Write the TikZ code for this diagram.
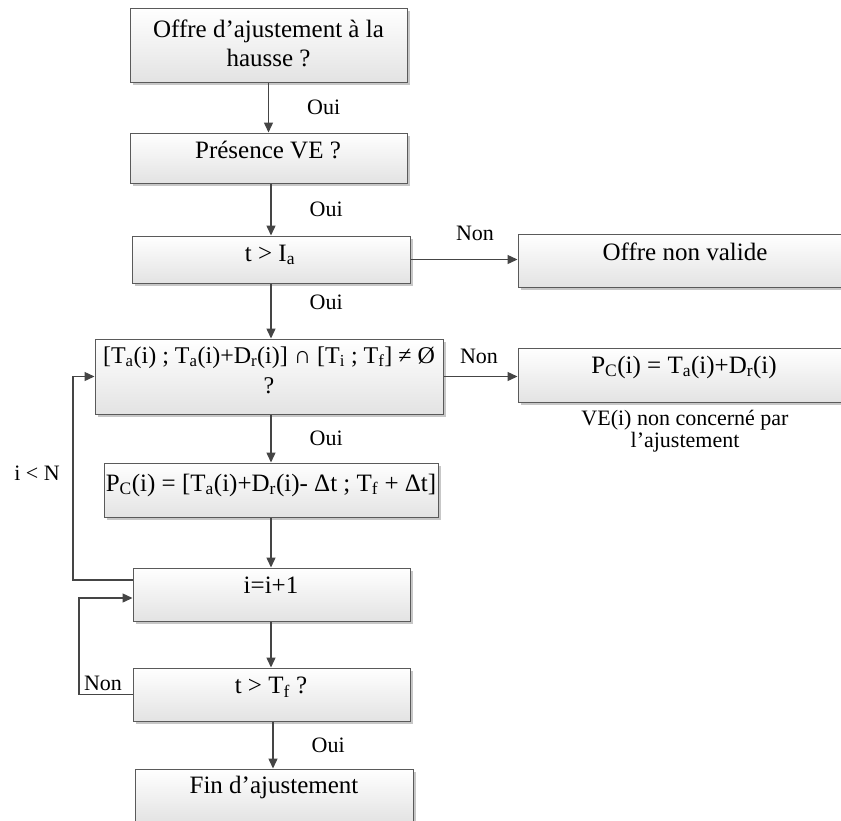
\documentclass[tikz,border=0pt]{standalone}
\usepackage{fontspec}
\setmainfont{Liberation Serif}
\usetikzlibrary{arrows.meta,shadows}
\definecolor{bord}{HTML}{5A5A5A}
\definecolor{arr}{HTML}{454545}
\tikzset{
  x=1pt, y=-1pt,
  boxs/.style={draw=bord, line width=1pt, top color=white, bottom color=black!11,
    inner sep=0pt, anchor=center,
    drop shadow={shadow xshift=3pt, shadow yshift=-3pt, fill=black!22, opacity=1}},
  txt/.style={inner sep=0pt, align=center, font=\fontsize{25}{29}\selectfont},
  lbl/.style={inner sep=0pt, align=center, font=\fontsize{22}{22}\selectfont},
  flow/.style={draw=arr, line width=1.4pt, -{Triangle[length=10pt,width=9pt]}},
  oui/.style={lbl, anchor=west, xshift=38pt},
}
\begin{document}
\begin{tikzpicture}
\useasboundingbox (0,0) rectangle (841,820);
\clip (0,0) rectangle (841,820);
% boxes
\node[boxs, minimum width=277pt, minimum height=74pt] (b1) at (268.5,45) {};
\node[boxs, minimum width=277pt, minimum height=50pt] (b2) at (268.5,158) {};
\node[boxs, minimum width=278pt, minimum height=47pt] (b3) at (271,259.5) {};
\node[boxs, minimum width=332pt, minimum height=53pt] (b4) at (684,260.5) {};
\node[boxs, minimum width=348pt, minimum height=75pt] (b5) at (269,376.5) {};
\node[boxs, minimum width=332pt, minimum height=54pt] (b6) at (684,375) {};
\node[boxs, minimum width=334pt, minimum height=54pt] (b7) at (271,490) {};
\node[boxs, minimum width=277pt, minimum height=53pt] (b8) at (271.5,594.5) {};
\node[boxs, minimum width=277pt, minimum height=53pt] (b9) at (271.5,694.5) {};
\node[boxs, minimum width=278pt, minimum height=53pt] (b10) at (274,795.5) {};
% texts
\node[txt] (t1) at (268.5,43) {Offre d’ajustement à la\\hausse ?};
\node[txt] (t2) at (268,150) {Présence VE ?};
\node[txt] (t3) at (270,255) {t > I\textsubscript{a}};
\node[txt] (t4) at (685,252) {Offre non valide};
\node[txt, font=\fontsize{24}{30}\selectfont] (t5) at (269,370) {[T\textsubscript{a}(i) ; T\textsubscript{a}(i)+D\textsubscript{r}(i)] ∩ [T\textsubscript{i} ; T\textsubscript{f}] ≠ Ø\\?};
\node[txt] (t6) at (684,367) {P\textsubscript{C}(i) = T\textsubscript{a}(i)+D\textsubscript{r}(i)};
\node[lbl] (cap) at (685,431) {VE(i) non concerné par\\l’ajustement};
\node[txt] (t7) at (271,485) {P\textsubscript{C}(i) = [T\textsubscript{a}(i)+D\textsubscript{r}(i)- Δt ; T\textsubscript{f} + Δt]};
\node[txt] (t8) at (271,585) {i=i+1};
\node[txt] (t9) at (271,687) {t > T\textsubscript{f} ?};
\node[txt] (t10) at (274,787) {Fin d’ajustement};
% loop coordinates
\coordinate (l1a) at (73,580);
\coordinate (l1b) at (73,376.5);
\coordinate (l2a) at (79,694.5);
\coordinate (l2b) at (79,598);
% vertical flows
\draw[flow] (b1.south) -- (b2.north) node[oui, pos=0.5] (o1) {Oui};
\draw[flow] (b3.north |- b2.south) -- (b3.north) node[oui, pos=0.5] (o2) {Oui};
\draw[flow] (b3.south) -- (b3.south |- b5.north) node[oui, pos=0.35] (o3) {Oui};
\draw[flow] (b5.south -| b3.south) -- (b3.south |- b7.north) node[oui, pos=0.5] (o4) {Oui};
\draw[flow] (b7.south -| b3.south) -- (b3.south |- b8.north);
\draw[flow] (b8.south -| b3.south) -- (b3.south |- b9.north);
\draw[flow] (b9.south -| b10.north) ++(-1,0) -- ([xshift=-1pt]b10.north) node[oui, pos=0.5] (o5) {Oui};
% horizontal flows
\draw[flow] (b3.east) -- (b3.east -| b4.west);
\draw[flow] (b5.east) -- (b5.east -| b6.west);
\node[lbl] (n1) at (475,233) {Non};
\node[lbl] (n2) at (479,356) {Non};
% loops
\draw[flow] (b8.west |- l1a) -- (l1a) -- (l1b) -- (b5.west);
\draw[flow] (b9.west) -- (l2a) -- (l2b) -- (b8.west |- l2b);
\node[lbl] (n3) at (37,473) {i < N};
\node[lbl] (n4) at (103,683) {Non};
\end{tikzpicture}
\end{document}
